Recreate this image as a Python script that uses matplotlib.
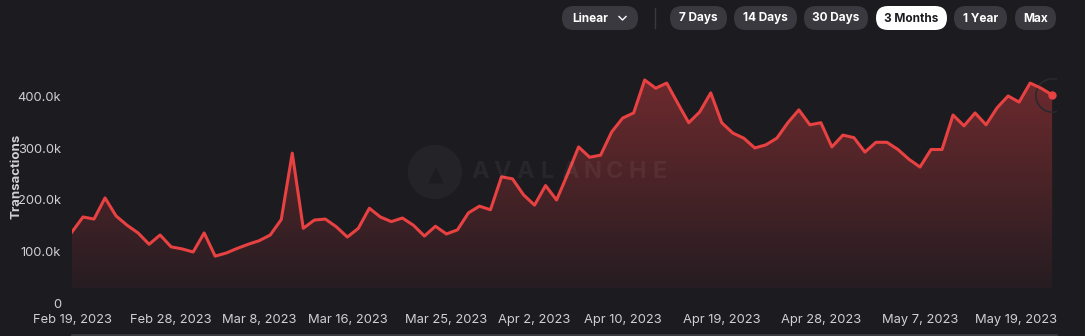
import numpy as np
import pandas as pd
import matplotlib
matplotlib.use("Agg")
import matplotlib.pyplot as plt
from matplotlib.patches import FancyBboxPatch, Circle
from matplotlib.colors import LinearSegmentedColormap

plt.rcParams['font.family'] = ['Inter', 'DejaVu Sans']

# ---------------- data ----------------
start_date = "2023-02-19"
transactions_k = [
    138, 167, 163, 204, 169, 151, 136, 114, 132, 109,
    105, 99, 136, 91, 97, 106, 114, 121, 132, 162,
    291, 145, 161, 163, 148, 128, 145, 184, 167, 158,
    165, 151, 130, 149, 134, 142, 175, 188, 181, 245,
    241, 210, 190, 228, 200, 250, 303, 283, 287, 332,
    359, 369, 433, 417, 427, 388, 350, 371, 408, 350,
    330, 320, 301, 307, 320, 350, 375, 346, 350, 303,
    326, 321, 293, 312, 312, 298, 279, 264, 298, 298,
    365, 344, 369, 346, 379, 402, 390, 427, 417, 404,
]
dates = pd.date_range(start_date, periods=len(transactions_k), freq="D")
values = np.array(transactions_k) * 1000.0

y_ticks = [0, 100000, 200000, 300000, 400000]
y_tick_labels = ["0", "100.0k", "200.0k", "300.0k", "400.0k"]
x_tick_dates = ["2023-02-19", "2023-02-28", "2023-03-08", "2023-03-16", "2023-03-25",
                "2023-04-02", "2023-04-10", "2023-04-19", "2023-04-28", "2023-05-07",
                "2023-05-19"]
x_tick_labels = ["Feb 19, 2023", "Feb 28, 2023", "Mar 8, 2023", "Mar 16, 2023",
                 "Mar 25, 2023", "Apr 2, 2023", "Apr 10, 2023", "Apr 19, 2023",
                 "Apr 28, 2023", "May 7, 2023", "May 19, 2023"]
buttons = ["7 Days", "14 Days", "30 Days", "3 Months", "1 Year", "Max"]
active_button = "3 Months"
scale_label = "Linear"

# ---------------- style ----------------
BG = "#1c1b20"
RED = "#e84142"
TXT = "#cfcfd4"
W, H = 1085, 336
FILL_FLOOR = 29000

fig = plt.figure(figsize=(W / 100, H / 100), dpi=100, facecolor=BG)

ax_l, ax_r, ax_b, ax_t = 72, 1056, 303, 72
ax = fig.add_axes([ax_l / W, (H - ax_b) / H, (ax_r - ax_l) / W, (ax_b - ax_t) / H])
ax.set_facecolor(BG)
for s in ax.spines.values():
    s.set_visible(False)

x = matplotlib.dates.date2num(dates)
ymax = 448500
ax.set_xlim(x[0], x[-1] + 0.35)
ax.set_ylim(0, ymax)

grad = np.linspace(0, 1, 256).reshape(-1, 1)
cmap = LinearSegmentedColormap.from_list(
    "g", [(0, (0.91, 0.255, 0.26, 0.05)), (1, (0.91, 0.255, 0.26, 0.40))])
img = ax.imshow(grad, extent=[x[0], x[-1], FILL_FLOOR, ymax * 0.97], origin="lower",
                aspect="auto", cmap=cmap, zorder=1)
poly = ax.fill_between(x, values, FILL_FLOOR, color="none", lw=0)
img.set_clip_path(poly.get_paths()[0], transform=ax.transData)

ax.plot(x, values, color=RED, lw=2.2, solid_joinstyle="round", zorder=3)
ax.plot(x[-1], values[-1], "o", ms=5, color=RED, zorder=4)
ax.plot(x[-1], values[-1], "o", ms=24, mfc="none", mec="#2a292e", mew=1.2, zorder=2)

ax.set_yticks(y_ticks)
ax.set_yticklabels(y_tick_labels)
xt = matplotlib.dates.date2num(pd.to_datetime(x_tick_dates))
ax.set_xticks(xt)
ax.set_xticklabels(x_tick_labels)
ax.tick_params(axis="both", length=0, colors=TXT, labelsize=9.3)
ax.tick_params(axis="x", pad=8)
ax.tick_params(axis="y", pad=8)
xl = ax.get_xticklabels()
xl[-1].set_ha("right")
xl[-1].set_transform(xl[-1].get_transform() +
                     matplotlib.transforms.ScaledTranslation(5 / 100, 0, fig.dpi_scale_trans))
ax.set_ylabel("Transactions", color=TXT, fontsize=9.5, fontweight="bold")
ax.yaxis.set_label_coords(-50 / (ax_r - ax_l), 0.55)

# ---------------- overlay in pixel space ----------------
ov = fig.add_axes([0, 0, 1, 1], zorder=5)
ov.set_xlim(0, W)
ov.set_ylim(H, 0)
ov.axis("off")
ov.patch.set_alpha(0)

# watermark
ov.add_patch(Circle((435, 172), 27, color="white", alpha=0.04, lw=0))
ov.text(436, 175, "▲", color="black", alpha=0.18, fontsize=15, ha="center",
        va="center", family=["DejaVu Sans"])
for i, ch in enumerate("AVALANCHE"):
    ov.text(480 + i * 22.5, 172, ch, color="white", alpha=0.05, fontsize=17,
            ha="center", va="center", fontweight="bold")

def pill(x0, x1, y0, y1, fc):
    r = (y1 - y0) / 2
    ov.add_patch(FancyBboxPatch((x0, y0), x1 - x0, y1 - y0,
                                boxstyle=f"round,pad=0,rounding_size={r}",
                                fc=fc, ec="none"))

pill(562, 638, 6, 30, "#3a393f")
ov.text(572, 18.5, scale_label, color="white", fontsize=8.5, fontweight="bold",
        va="center", ha="left")
ov.plot([619, 622.5, 626], [16.5, 20, 16.5], color="white", lw=1.0)
ov.plot([655, 655], [8, 28], color="#3a393f", lw=1)

btn_x = [(670, 727), (734, 797), (804, 868), (876, 947), (954, 1007), (1015, 1056)]
for (bx0, bx1), label in zip(btn_x, buttons):
    active = label == active_button
    pill(bx0, bx1, 6, 30, "white" if active else "#3a393f")
    ov.text((bx0 + bx1) / 2, 18.5, label, color=BG if active else "white",
            fontsize=8.5, fontweight="bold", ha="center", va="center")

ov.plot([72, 1056], [335, 335], color="#3a393f", lw=2)

fig.savefig("out.png", dpi=100, facecolor=BG)
